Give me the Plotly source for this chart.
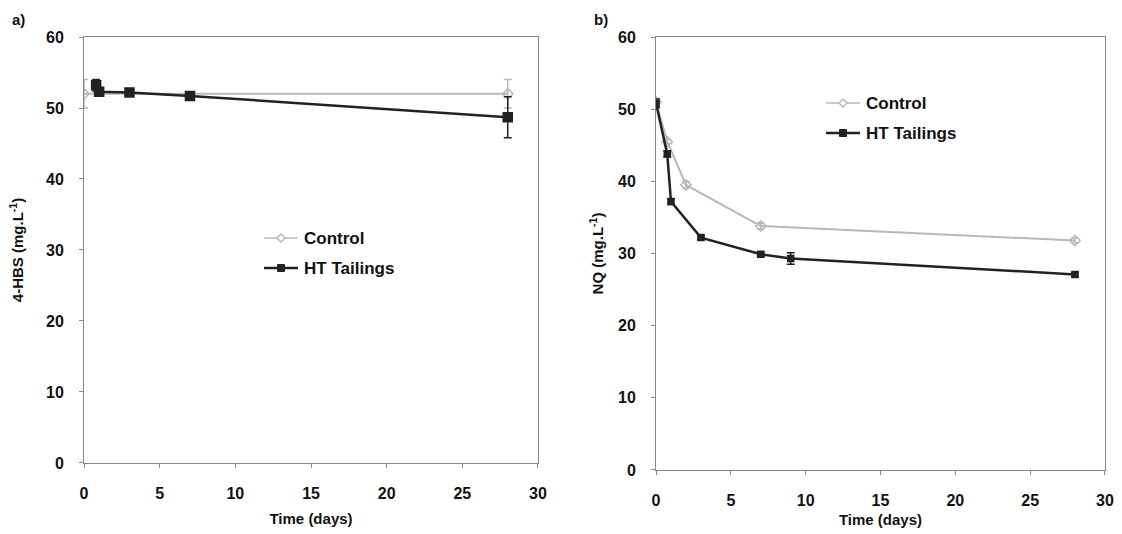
import plotly.graph_objects as go

# Panel a) 4-HBS
a_ctrl_t = [0, 28]
a_ctrl_y = [52.0, 52.0]
a_ctrl_err = [2.0, 2.0]
a_ht_t = [0.8, 1, 3, 7, 28]
a_ht_y = [53.2, 52.3, 52.2, 51.7, 48.7]
a_ht_err = [0.8, 0.5, 0.4, 0.4, 2.9]

# Panel b) NQ
b_ctrl_t = [0, 0.75, 2, 7, 28]
b_ctrl_y = [51.0, 45.5, 39.5, 33.8, 31.8]
b_ctrl_err = [0.3, 0.3, 0.4, 0.4, 0.3]
b_ht_t = [0, 0.75, 1, 3, 7, 9, 28]
b_ht_y = [50.8, 43.8, 37.2, 32.2, 29.9, 29.3, 27.1]
b_ht_err = [0.6, 0.4, 0.4, 0.3, 0.3, 0.8, 0.3]

ctrl_color = "#b8b8b8"
ht_color = "#222222"
font = "Liberation Sans, Arial, sans-serif"

fig = go.Figure()

def add(t, y, err, name, xa, ya, color, sym, size, width):
    fig.add_trace(go.Scatter(
        x=t, y=y, name=name, mode="lines+markers",
        line=dict(color=color, width=width),
        marker=dict(symbol=sym, size=size, color=color,
                    line=dict(color=color, width=1.5)),
        error_y=dict(type="data", array=err, color=color, thickness=1.5, width=4),
        xaxis=xa, yaxis=ya, showlegend=False))

add(a_ctrl_t, a_ctrl_y, a_ctrl_err, "Control", "x", "y", ctrl_color, "diamond-open", 8, 2)
add(a_ht_t, a_ht_y, a_ht_err, "HT Tailings", "x", "y", ht_color, "square", 9, 2.5)
add(b_ctrl_t, b_ctrl_y, b_ctrl_err, "Control", "x2", "y2", ctrl_color, "diamond-open", 8, 2)
add(b_ht_t, b_ht_y, b_ht_err, "HT Tailings", "x2", "y2", ht_color, "square", 6, 2.5)

tickfont = dict(family=font, size=16, color="#111", weight="bold")
titlefont = dict(family=font, size=15, color="#111")

def xax(domain, anchor, standoff):
    return dict(domain=domain, anchor=anchor, range=[0, 30], dtick=5, automargin=False,
                showgrid=False, zeroline=False, showline=True, linecolor="#888",
                linewidth=1, mirror=True, ticks="outside", ticklen=4, tickcolor="#888",
                tickfont=tickfont, ticklabelstandoff=12,
                title=dict(text="<b>Time (days)</b>", font=titlefont, standoff=standoff))

def yax(domain, anchor, title, standoff):
    return dict(domain=domain, anchor=anchor, range=[0, 60], dtick=10, automargin=False,
                showgrid=False, zeroline=False, showline=True, linecolor="#888",
                linewidth=1, mirror=True, ticks="outside", ticklen=4, tickcolor="#888",
                tickfont=tickfont, ticklabelstandoff=12,
                title=dict(text=title, font=titlefont, standoff=standoff))

fig.update_layout(
    width=1122, height=534,
    margin=dict(l=0, r=0, t=0, b=0),
    paper_bgcolor="white", plot_bgcolor="white",
    showlegend=False,
    xaxis=xax([0.0749, 0.4795], "y", 12),
    yaxis=yax([0.133, 0.9307], "x", "<b>4-HBS (mg.L<sup>-1</sup>)</b>", 18),
    xaxis2=xax([0.5847, 0.9848], "y2", 6),
    yaxis2=yax([0.1199, 0.9307], "x2", "<b>NQ (mg.L<sup>-1</sup>)</b>", 10),
)

W, H = 1122, 534

def legend(x0, y0, dy):
    items = [("Control", ctrl_color, "diamond", 1.5),
             ("HT Tailings", ht_color, "square", 2.5)]
    for i, (name, col, sym, lw) in enumerate(items):
        yy = y0 + i * dy
        yp = 1 - yy / H
        fig.add_shape(type="line", xref="paper", yref="paper",
                      x0=x0 / W, x1=(x0 + 34) / W, y0=yp, y1=yp,
                      line=dict(color=col, width=lw))
        xc = (x0 + 17) / W
        if sym == "diamond":
            fig.add_shape(type="path", xref="paper", yref="paper",
                          xsizemode="pixel", ysizemode="pixel", xanchor=xc, yanchor=yp,
                          path="M -4,0 L 0,4 L 4,0 L 0,-4 Z",
                          fillcolor="white", line=dict(color=col, width=1.5))
        else:
            fig.add_shape(type="rect", xref="paper", yref="paper",
                          xsizemode="pixel", ysizemode="pixel", xanchor=xc, yanchor=yp,
                          x0=-3.5, x1=3.5, y0=-3.5, y1=3.5,
                          fillcolor=col, line=dict(color=col, width=1))
        fig.add_annotation(x=(x0 + 38) / W, y=yp, xref="paper", yref="paper",
                           text="<b>%s</b>" % name, showarrow=False, xanchor="left",
                           yanchor="middle", font=dict(family=font, size=17, color="#111"))

legend(264, 238, 30)
legend(826, 103, 30)

fig.add_annotation(x=10 / W, y=1 - 20 / H, xref="paper", yref="paper", text="<b>a)</b>",
                   showarrow=False, xanchor="left", yanchor="middle",
                   font=dict(family=font, size=15, color="#111"))
fig.add_annotation(x=592 / W, y=1 - 20 / H, xref="paper", yref="paper", text="<b>b)</b>",
                   showarrow=False, xanchor="left", yanchor="middle",
                   font=dict(family=font, size=15, color="#111"))

fig.write_html("out.html")
